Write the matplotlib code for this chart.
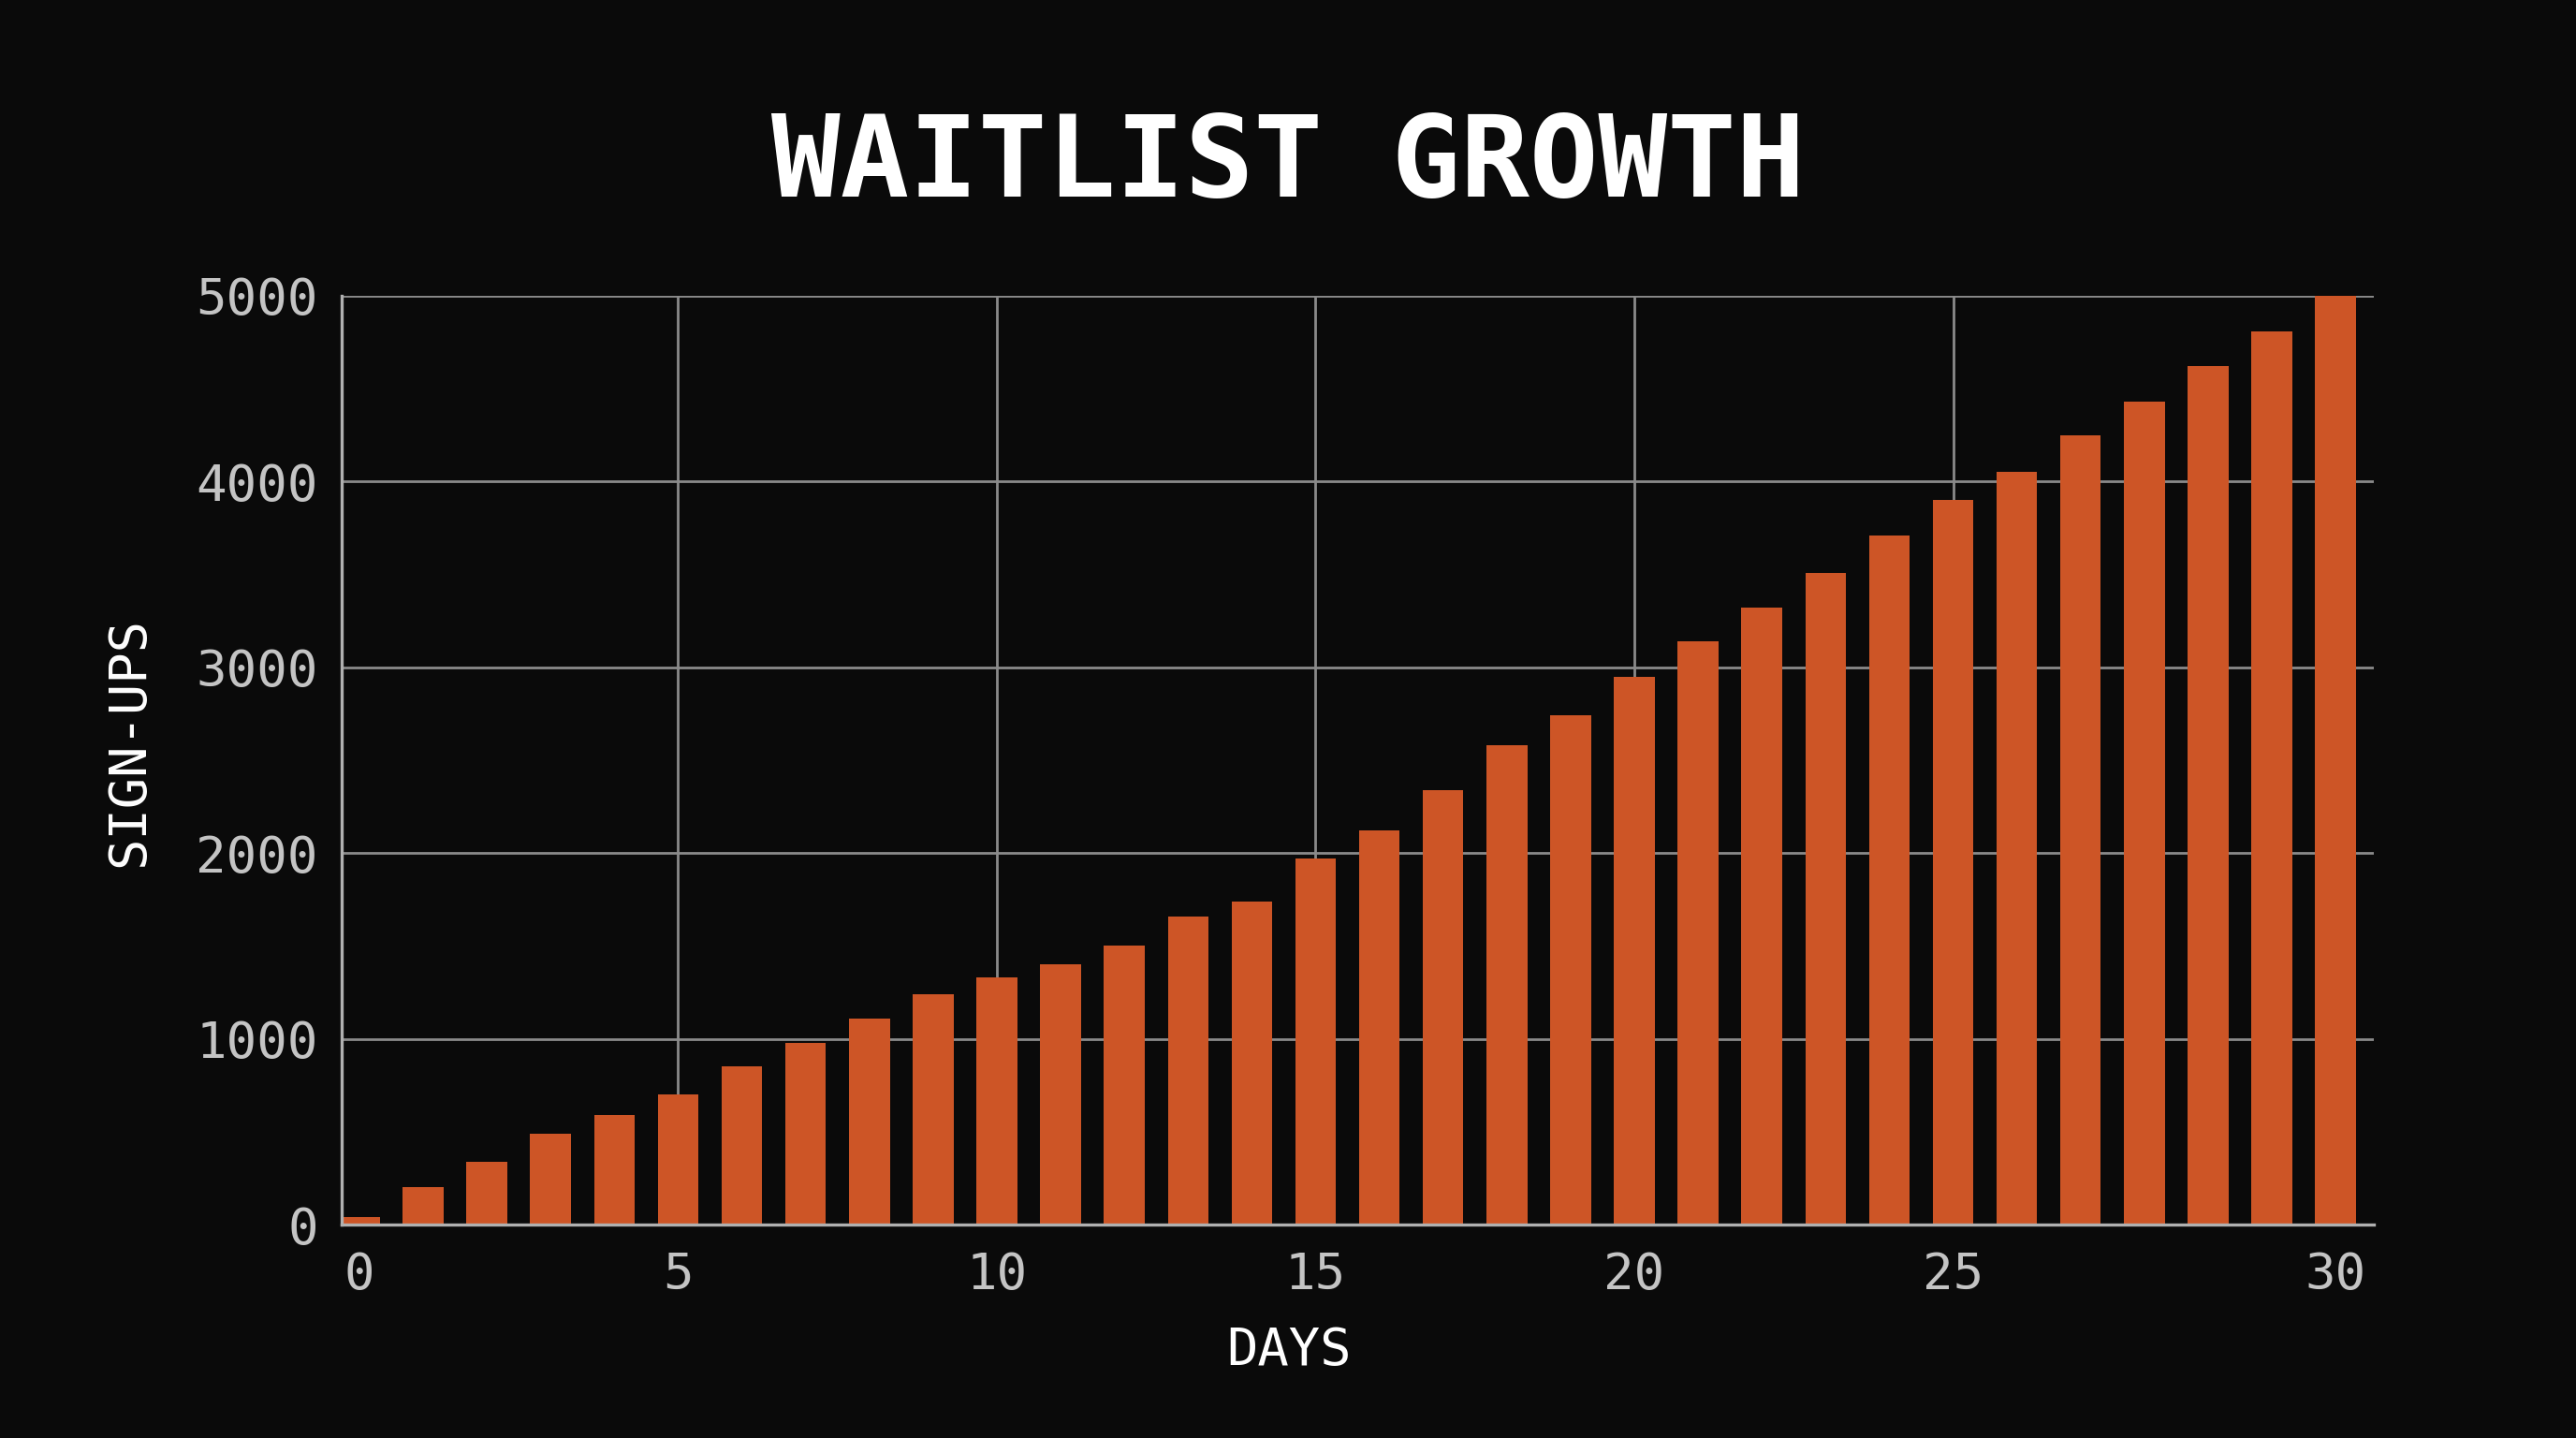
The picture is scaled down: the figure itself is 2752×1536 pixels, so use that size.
import matplotlib
matplotlib.use('Agg')
import matplotlib.pyplot as plt
import numpy as np

# sign-ups per bar (32 bars drawn)
signups = [40, 200, 340, 490, 590, 700, 850, 980, 1110, 1240, 1330, 1400,
           1500, 1660, 1740, 1970, 2120, 2340, 2580, 2740, 2950, 3140, 3320,
           3510, 3710, 3900, 4050, 4250, 4430, 4620, 4810, 5000]
day_ticks = [0, 5, 10, 15, 20, 25, 31]
day_labels = ['0', '5', '10', '15', '20', '25', '30']
y_ticks = [0, 1000, 2000, 3000, 4000, 5000]

bg = '#0a0a0a'
bar_color = '#cd5526'
mono = ['DejaVu Sans Mono']

fig = plt.figure(figsize=(13.76, 7.68), dpi=200, facecolor=bg)
ax = fig.add_axes([0.1326, 0.1484, 0.7889, 0.6459])
ax.set_facecolor(bg)

x = np.arange(len(signups))
ax.bar(x, signups, width=0.64, color=bar_color, zorder=3)

ax.set_xlim(-0.28, 31.6)
ax.set_ylim(0, 5000)
ax.set_xticks(day_ticks)
ax.set_xticklabels(day_labels)
ax.set_yticks(y_ticks)
ax.set_yticklabels([str(v) for v in y_ticks])

# grid: vertical lines only at 5..25
ax.grid(axis='y', color='#8a8a8a', linewidth=1.0, zorder=1)
for d in day_ticks[1:-1]:
    ax.axvline(d, color='#8a8a8a', linewidth=1.0, zorder=1)

for s in ['top', 'right']:
    ax.spines[s].set_visible(False)
for s in ['left', 'bottom']:
    ax.spines[s].set_color('#b0b0b0')
    ax.spines[s].set_linewidth(1.2)
    ax.spines[s].set_zorder(4)

ax.tick_params(length=0, colors='#c4c4c4', labelsize=19.5)
ax.tick_params(axis='x', pad=10)
ax.tick_params(axis='y', pad=9)
for lab in ax.get_xticklabels() + ax.get_yticklabels():
    lab.set_family(mono)

ax.set_xlabel('DAYS', color='white', fontsize=20, family=mono)
ax.set_ylabel('SIGN-UPS', color='white', fontsize=20, family=mono)
ax.xaxis.set_label_coords(0.466, -0.109)
ax.yaxis.set_label_coords(-0.092, 0.52)

fig.text(0.5, 0.885, 'WAITLIST GROWTH', color='white', fontsize=44,
         fontweight='bold', family=mono, ha='center', va='center')

fig.savefig('out.png', dpi=200, facecolor=bg)
